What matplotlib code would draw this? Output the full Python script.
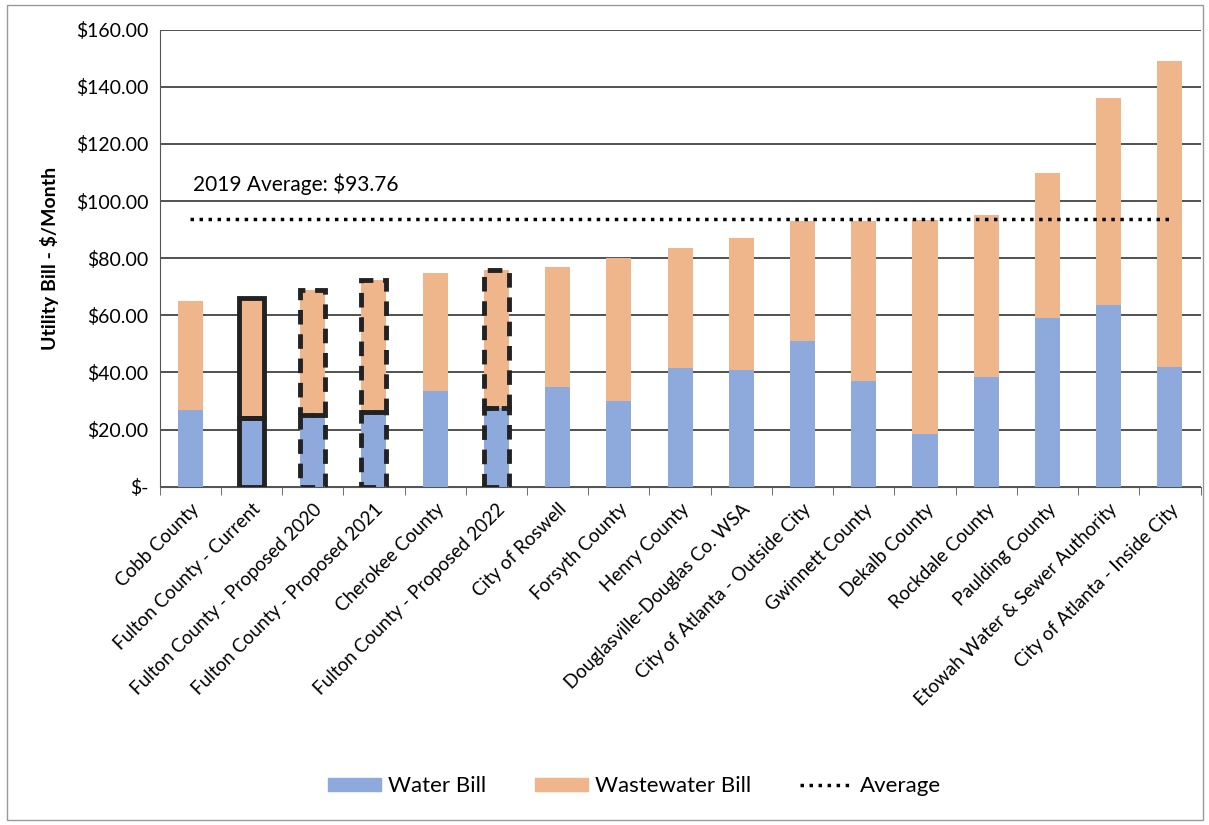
import matplotlib.pyplot as plt
from matplotlib.patches import Rectangle
from matplotlib.lines import Line2D
import numpy as np

plt.rcParams['font.family'] = ['Lato', 'DejaVu Sans']

categories = ['Cobb County', 'Fulton County - Current', 'Fulton County - Proposed 2020',
              'Fulton County - Proposed 2021', 'Cherokee County', 'Fulton County - Proposed 2022',
              'City of Roswell', 'Forsyth County', 'Henry County', 'Douglasville-Douglas Co. WSA',
              'City of Atlanta - Outside City', 'Gwinnett County', 'Dekalb County',
              'Rockdale County', 'Paulding County', 'Etowah Water & Sewer Authority',
              'City of Atlanta - Inside City']
water = [27, 24, 25, 26, 33.5, 27.5, 35, 30, 41.5, 41, 51, 37, 18.5, 38.5, 59, 63.5, 42]
total = [65, 66, 69, 72.5, 75, 76, 77, 80, 83.5, 87, 93, 93, 93.5, 95, 110, 136, 149]
wastewater = [t - w for t, w in zip(total, water)]
average = 93.76
yticks = [0, 20, 40, 60, 80, 100, 120, 140, 160]
ytick_labels = ['$-', '$20.00', '$40.00', '$60.00', '$80.00', '$100.00', '$120.00', '$140.00', '$160.00']

blue = '#8eaadc'
orange = '#efb68b'

fig = plt.figure(figsize=(12.09, 8.25), dpi=100)
ax = fig.add_axes([0.132, 0.41, 0.861, 0.554])

x = np.arange(len(categories))
ax.bar(x, water, width=0.41, color=blue, zorder=2)
ax.bar(x, wastewater, width=0.41, bottom=water, color=orange, zorder=2)

# outlined Fulton County bars
ax.bar(1, water[1], width=0.41, fill=False, edgecolor='#222222', linewidth=3.5, zorder=3)
ax.bar(1, wastewater[1], width=0.41, bottom=water[1], fill=False, edgecolor='#222222', linewidth=3.5, zorder=3)
for i in [2, 3, 5]:
    ax.bar(i, water[i], width=0.41, fill=False, edgecolor='#222222', linewidth=3.5,
           linestyle=(0, (3, 2)), zorder=3)
    ax.bar(i, wastewater[i], width=0.41, bottom=water[i], fill=False, edgecolor='#222222',
           linewidth=3.5, linestyle=(0, (3, 2)), zorder=3)

ax.plot(x, [average] * len(x), color='black', linestyle=(0, (1, 1.6)), linewidth=2.5, zorder=4)
ax.text(0.05, 106, '2019 Average: $%.2f' % average, fontsize=15, va='center', ha='left')

ax.set_xlim(-0.5, len(categories) - 0.5)
ax.set_ylim(0, 160)
ax.set_yticks(yticks)
ax.set_yticklabels(ytick_labels, fontsize=14)
ax.tick_params(axis='y', length=0, pad=8)
ax.yaxis.grid(True, color='#333333', linewidth=1.2, zorder=0)
ax.set_axisbelow(True)

ax.set_xticks(x)
ax.set_xticklabels(categories, rotation=45, ha='right', rotation_mode='anchor', fontsize=13.5)
ax.set_xticks(np.arange(-0.5, len(categories), 1), minor=True)
ax.tick_params(axis='x', which='major', length=0, pad=10)
ax.tick_params(axis='x', which='minor', length=6, color='#555555', direction='out')

ax.spines['top'].set_visible(False)
ax.spines['right'].set_visible(False)
ax.spines['left'].set_color('#555555')
ax.spines['bottom'].set_color('#555555')
ax.set_ylabel('Utility Bill - $/Month', fontsize=14, fontweight='bold', labelpad=12)

handles = [Rectangle((0, 0), 1, 1, color=blue), Rectangle((0, 0), 1, 1, color=orange),
           Line2D([], [], color='black', linestyle=(0, (1, 1.6)), linewidth=2.5)]
fig.legend(handles, ['Water Bill', 'Wastewater Bill', 'Average'], loc='center',
           bbox_to_anchor=(0.525, 0.047), ncol=3, frameon=False, fontsize=16,
           handlelength=2.4, handleheight=0.5, columnspacing=2.2, handletextpad=0.3)

fig.patches.append(Rectangle((0.006, 0.006), 0.989, 0.988, transform=fig.transFigure,
                             fill=False, edgecolor='#999999', linewidth=1))

fig.savefig('out.png', dpi=100)
